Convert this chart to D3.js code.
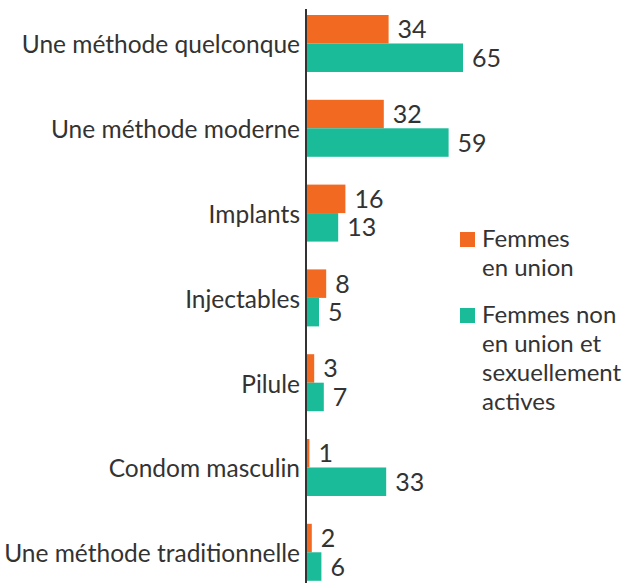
<!DOCTYPE html>
<html>
<head>
<meta charset="utf-8">
<script src="https://cdn.jsdelivr.net/npm/d3@7"></script>
<style>
  body { margin: 0; background: #fff; }
  text { font-family: Lato, "Open Sans", sans-serif; fill: #333; }
</style>
</head>
<body>
<div id="chart"></div>
<script>
// data
const categories = ["Une méthode quelconque", "Une méthode moderne", "Implants",
    "Injectables", "Pilule", "Condom masculin", "Une méthode traditionnelle"];
const seriesNames = ["Femmes en union", "Femmes non en union et sexuellement actives"];
const enUnion = [34, 32, 16, 8, 3, 1, 2];
const nonUnion = [65, 59, 13, 5, 7, 33, 6];
const legendLines = [["Femmes", "en union"], ["Femmes non", "en union et", "sexuellement", "actives"]];
const colors = ["#f26a22", "#1abb98"];

const width = 622, height = 583;
const svg = d3.select("#chart").append("svg")
    .attr("width", width)
    .attr("height", height);

// scales
const y = d3.scaleBand()
    .domain(categories)
    .range([15, 15 + 84.8 * (7 - 0.328)])
    .paddingInner(0.328)
    .paddingOuter(0);

const ySub = d3.scaleBand()
    .domain(seriesNames)
    .range([0, y.bandwidth()]);

const x = d3.scaleLinear()
    .domain([0, 65])
    .range([307, 463]);

const rows = categories.map((c, i) => ({ cat: c, vals: [enUnion[i], nonUnion[i]] }));

const g = svg.selectAll(".grp")
    .data(rows)
    .enter().append("g")
    .attr("transform", d => `translate(0,${y(d.cat)})`);

// bars
g.selectAll("rect")
    .data(d => d.vals.map((v, k) => ({ v: v, s: seriesNames[k], k: k })))
    .enter().append("rect")
    .attr("x", x(0))
    .attr("y", d => ySub(d.s))
    .attr("width", d => x(d.v) - x(0))
    .attr("height", ySub.bandwidth())
    .attr("fill", d => colors[d.k]);

// value labels
g.selectAll(".val")
    .data(d => d.vals.map((v, k) => ({ v: v, s: seriesNames[k] })))
    .enter().append("text")
    .attr("class", "val")
    .attr("x", d => x(d.v) + 9)
    .attr("y", d => ySub(d.s) + ySub.bandwidth() / 2)
    .attr("dy", "0.36em")
    .style("font-size", "25px")
    .text(d => d.v);

// category labels
g.append("text")
    .attr("x", 300)
    .attr("y", y.bandwidth() / 2 + 1)
    .attr("dy", "0.36em")
    .attr("text-anchor", "end")
    .style("font-size", "24.5px")
    .text(d => d.cat);

// axis line
svg.append("line")
    .attr("x1", 306).attr("x2", 306)
    .attr("y1", 9).attr("y2", height)
    .attr("stroke", "#333")
    .attr("stroke-width", 2);

// legend
const legendTop = [232, 308];
legendLines.forEach((lines, k) => {
    svg.append("rect")
        .attr("x", 460)
        .attr("y", legendTop[k])
        .attr("width", 15)
        .attr("height", 15)
        .attr("fill", colors[k]);
    lines.forEach((t, j) => {
        svg.append("text")
            .attr("x", 482)
            .attr("y", legendTop[k] + 15 + j * 29)
            .style("font-size", "24px")
            .text(t);
    });
});
</script>
</body>
</html>
